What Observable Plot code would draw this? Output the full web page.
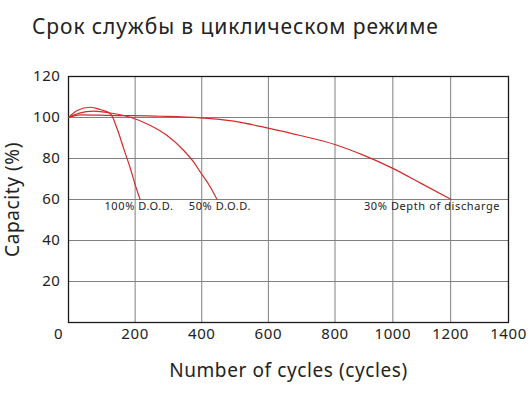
<!DOCTYPE html>
<html>
<head>
<meta charset="utf-8">
<script src="https://cdn.jsdelivr.net/npm/d3@7"></script>
<script src="https://cdn.jsdelivr.net/npm/@observablehq/plot@0.6"></script>
<style>
  body { margin: 0; background: #fff; font-family: "Noto Sans", sans-serif; }
  #title { height: 50px; box-sizing: border-box; padding: 12px 0 0 32px; font-size: 21px; letter-spacing: 0.9px; color: #222; }
</style>
</head>
<body>
<div id="title">Срок службы в циклическом режиме</div>
<div id="chart"></div>
<script>
// 100% D.O.D.
var cycles100 = [0, 26, 66, 96, 126, 146, 166, 186, 201, 215]
var cap100 = [100, 103.4, 105, 103.8, 101.8, 94.5, 84.7, 75, 66.8, 60]
// 50% D.O.D.
var cycles50 = [0, 30, 76, 126, 186, 246, 296, 346, 376, 396, 426, 446]
var cap50 = [100, 102, 103.1, 102.2, 100.1, 96.1, 91.2, 83.9, 78.2, 73.3, 66, 60]
// 30% depth of discharge
var cycles30 = [0, 36, 126, 276, 396, 496, 599, 696, 802, 900, 998, 1096, 1202]
var cap30 = [100, 101.3, 101, 100.6, 99.8, 98.2, 94.8, 91.2, 86.7, 81.5, 75.3, 68, 60]

var xTicks = [200, 400, 600, 800, 1000, 1200, 1400]
var yTicks = [20, 40, 60, 80, 100, 120]

var curveLabels = ["100% D.O.D.", "50% D.O.D.", "30% Depth of discharge"]
var labelCycles = [108, 361, 900]

var rows = []
cycles100.forEach((c, i) => rows.push({s: "100", x: c, y: cap100[i]}))
cycles50.forEach((c, i) => rows.push({s: "50", x: c, y: cap50[i]}))
cycles30.forEach((c, i) => rows.push({s: "30", x: c, y: cap30[i]}))

var labels = curveLabels.map((t, i) => ({t: t, x: labelCycles[i], y: 60}))

var chart = Plot.plot({
  width: 532,
  height: 350,
  marginLeft: 68,
  marginRight: 24,
  marginTop: 26,
  marginBottom: 78,
  style: {fontFamily: "Noto Sans, sans-serif", fontSize: 15, color: "#222", letterSpacing: "0.6px"},
  x: {type: "linear", domain: [0, 800, 1400], range: [68, 334.5, 508], ticks: xTicks, tickFormat: "d", tickSize: 0, tickPadding: 6, label: null},
  y: {domain: [0, 120], ticks: yTicks, tickSize: 0, tickPadding: 8, label: null},
  marks: [
    Plot.gridX(xTicks, {stroke: "#808080", strokeOpacity: 1}),
    Plot.gridY(yTicks, {stroke: "#808080", strokeOpacity: 1}),
    Plot.frame({stroke: "#1a1a1a", strokeWidth: 1.3}),
    Plot.line(rows, {x: "x", y: "y", z: "s", stroke: "#d42a2a", strokeWidth: 1.2, curve: "monotone-x"}),
    Plot.text(labels, {x: "x", y: "y", text: "t", textAnchor: "start", lineAnchor: "middle", dy: 7, fontSize: 11, letterSpacing: "0.2px", fill: "#222"}),
    Plot.text([0], {x: d => d, frameAnchor: "bottom", textAnchor: "middle", lineAnchor: "middle", dx: -10, dy: 12, text: d => String(d), fontSize: 15, fill: "#222"}),
    Plot.text(["Number of cycles (cycles)"], {frameAnchor: "bottom", textAnchor: "middle", lineAnchor: "middle", dy: 48, text: d => d, fontSize: 19, fill: "#222"}),
    Plot.text(["Capacity (%)"], {frameAnchor: "left", textAnchor: "middle", lineAnchor: "middle", dx: -56, rotate: -90, text: d => d, fontSize: 19, fill: "#222"})
  ]
})
d3.select("#chart").append(() => chart)
</script>
</body>
</html>
